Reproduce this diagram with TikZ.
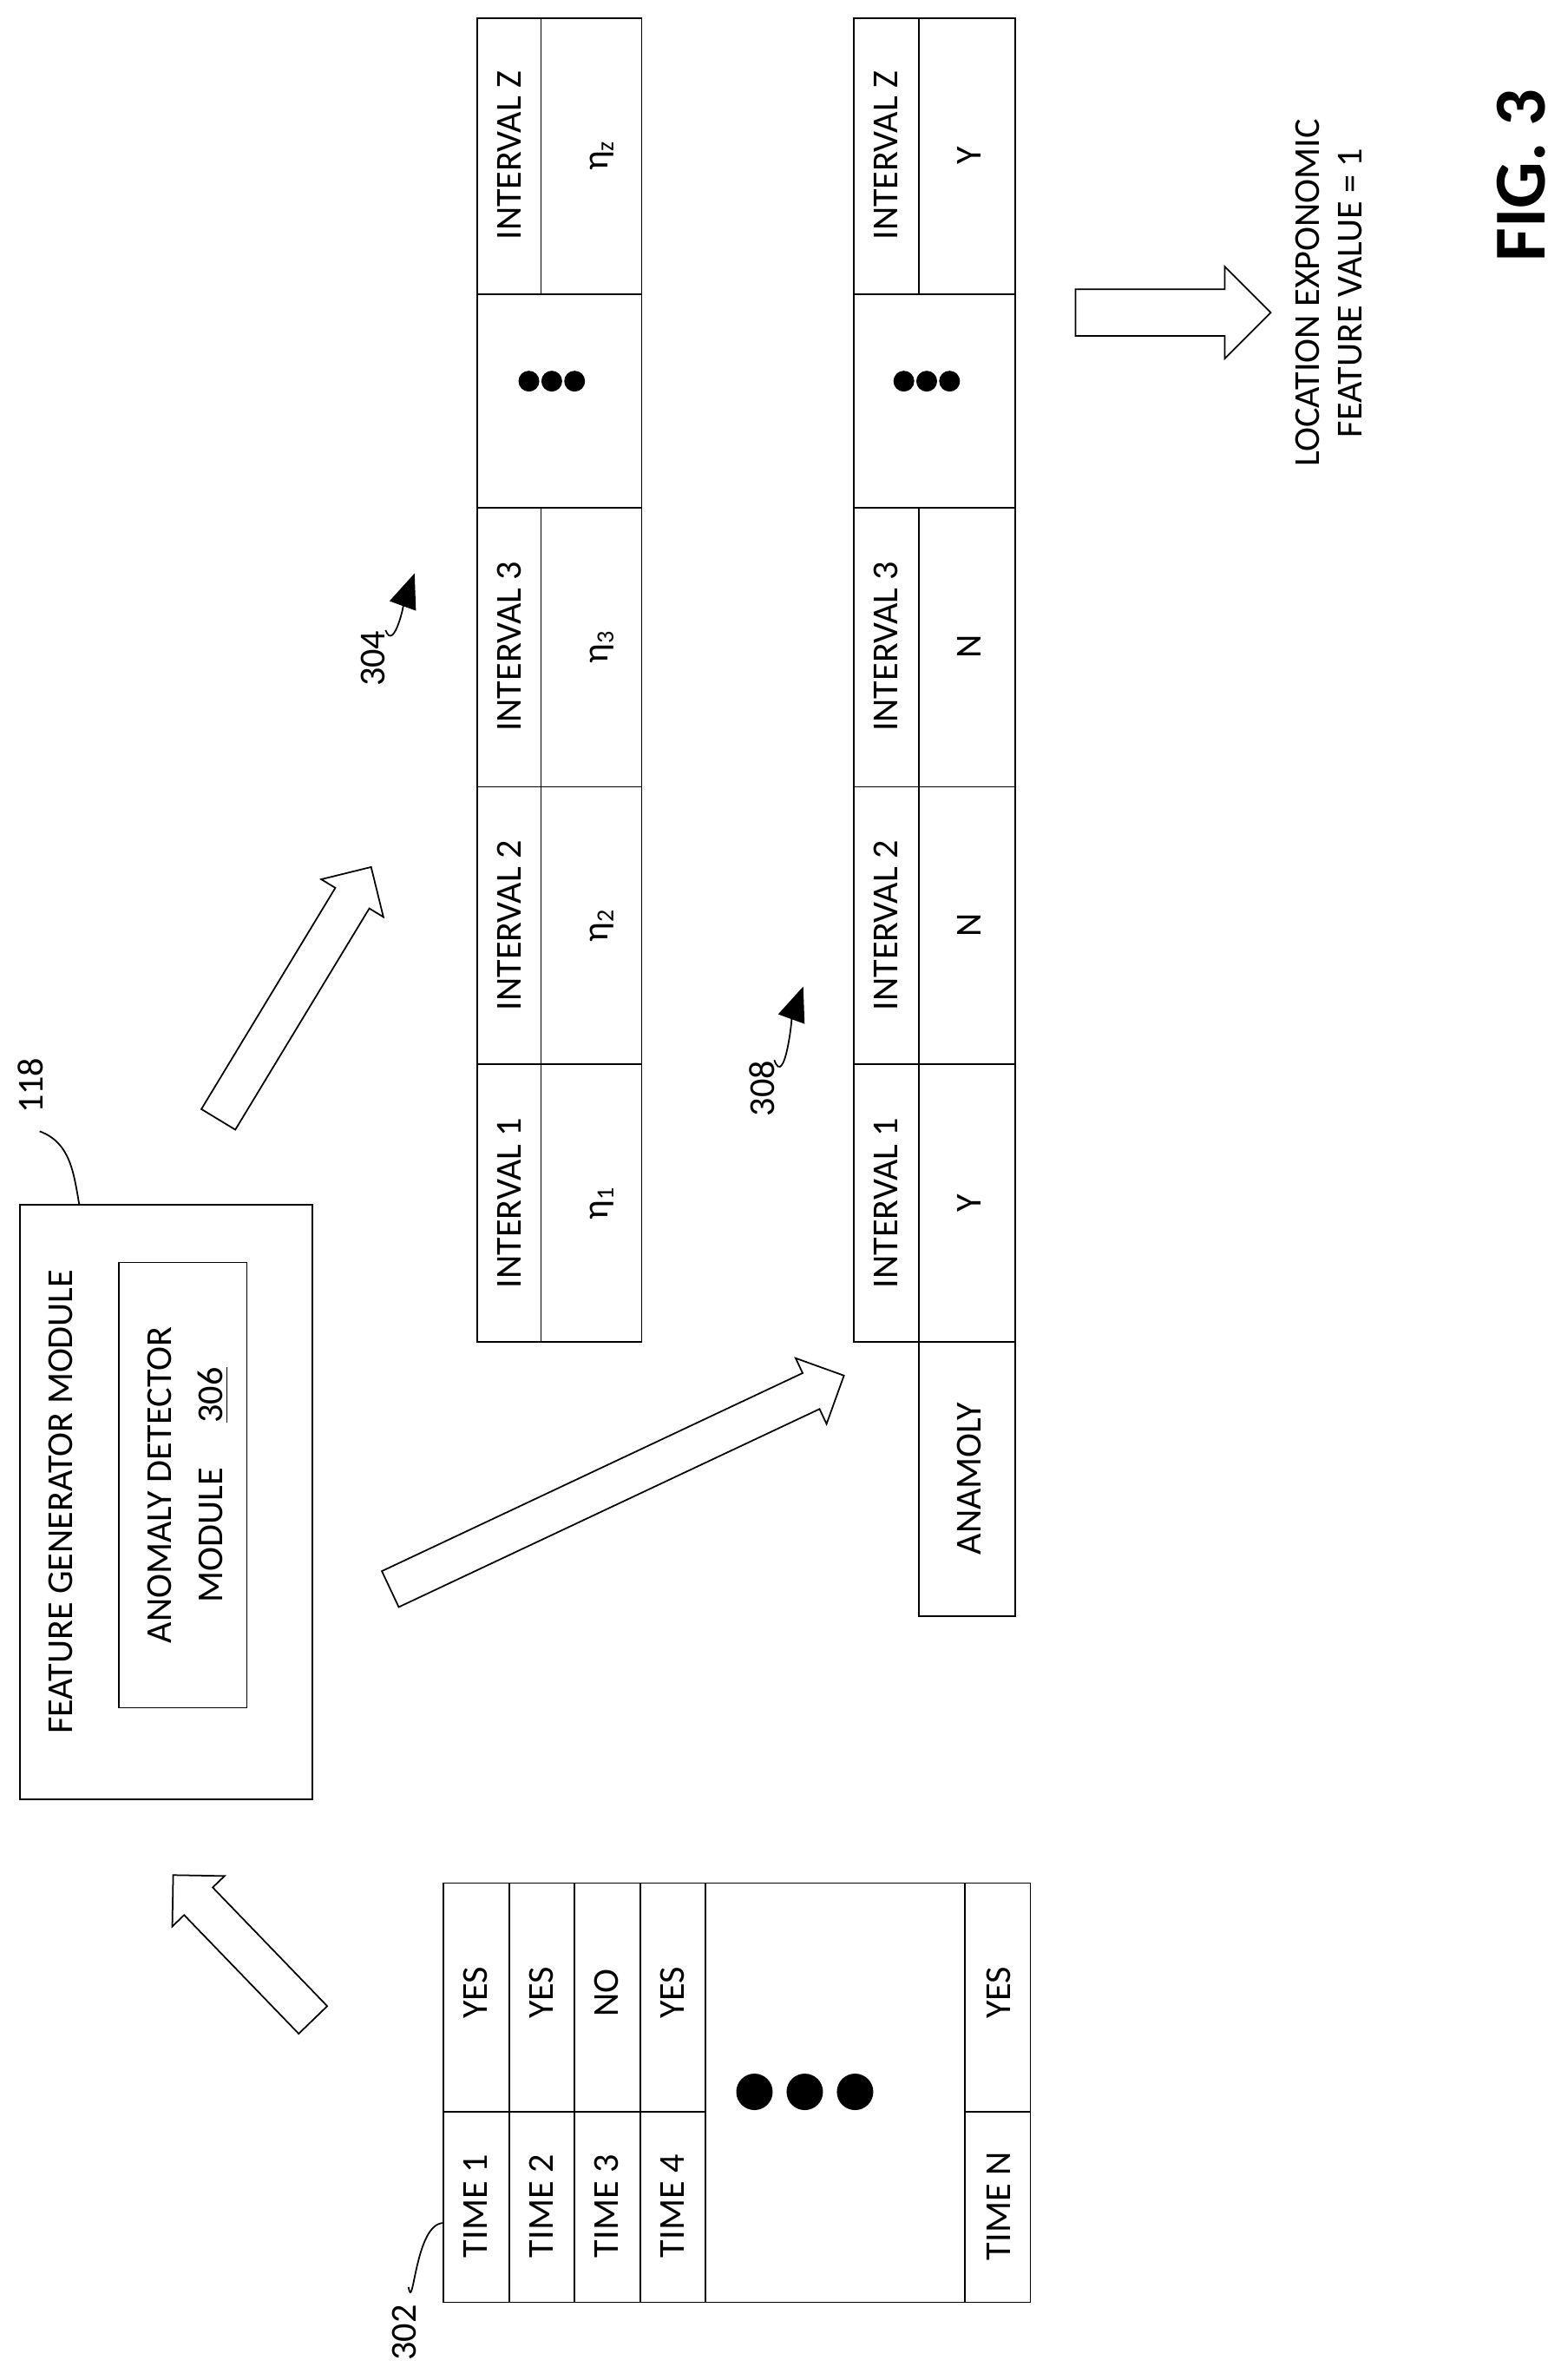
\documentclass[tikz,border=0pt]{standalone}
\usepackage{fontspec}
\setmainfont{Carlito}
\usetikzlibrary{shapes.arrows,arrows.meta}
\newcommand{\eh}[1]{η\textsubscript{#1}}
\begin{document}
\begin{tikzpicture}[x=0.1757mm,y=-0.1757mm,line width=0.5pt,
  t/.style={rotate=90,inner sep=0,font=\fontsize{12}{14}\selectfont},
  big/.style={single arrow,draw,fill=white,inner xsep=0,inner ysep=2.2mm,single arrow head extend=1.9mm,single arrow head indent=0mm,line width=0.5pt},
  dot/.style={fill=black,circle,inner sep=0,minimum size=2.4mm}]
\useasboundingbox (0,0) rectangle (1024,1561);
% table 304
\draw (313,12) rectangle (421,880);
\foreach \y in {193,333,516,698} \draw (313,\y)--(421,\y);
\draw (355,12)--(355,193) (355,333)--(355,880);
\node[t] (h304z) at (334,102) {INTERVAL Z};
\node[t] (h3043) at (334,424) {INTERVAL 3};
\node[t] (h3042) at (334,607) {INTERVAL 2};
\node[t] (h3041) at (334,789) {INTERVAL 1};
\node[t] (v304z) at (395,102) {\eh{z}};
\node[t] (v3043) at (395,424) {\eh{3}};
\node[t] (v3042) at (395,607) {\eh{2}};
\node[t] (v3041) at (395,789) {\eh{1}};
\foreach \x [count=\i] in {347,362,377} \node[dot] (da\i) at (\x,250) {};
% table 308
\draw (560,12) rectangle (666,880);
\foreach \y in {193,333,516,698} \draw (560,\y)--(666,\y);
\draw (603,12)--(603,193) (603,333)--(603,880);
\draw (603,880) rectangle (666,1060);
\node[t] (h308z) at (581,102) {INTERVAL Z};
\node[t] (h3083) at (581,424) {INTERVAL 3};
\node[t] (h3082) at (581,607) {INTERVAL 2};
\node[t] (h3081) at (581,789) {INTERVAL 1};
\node[t] (v308z) at (636,102) {Y};
\node[t] (v3083) at (636,424) {N};
\node[t] (v3082) at (636,607) {N};
\node[t] (v3081) at (636,789) {Y};
\node[t] (anam) at (636,970) {ANAMOLY};
\foreach \x [count=\i] in {593,608,623} \node[dot] (db\i) at (\x,250) {};
% labels 304/308
\node[t] (l304) at (245,432) {304};
\draw[-{Triangle[length=4mm,width=3.2mm]}] (l304.east) ++(8,0) to[out=-70,in=-110] (272,376);
\node[t] (l308) at (500,714) {308};
\draw[-{Triangle[length=4mm,width=3.2mm]}] (l308.east) ++(8,0) to[out=-70,in=-110] (527,647);
% result
\node[big,minimum height=22.5mm,inner ysep=2.6mm,single arrow head extend=2.6mm] (ar4) at (762,205) {};
\node[t,align=center] (res) at (872,192) {LOCATION EXPONOMIC\\FEATURE VALUE = 1};
\node[rotate=90,inner sep=0,font=\fontsize{24}{28}\selectfont\bfseries] (fig) at (998,115) {FIG. 3};
% feature generator
\draw (13,790) rectangle (205,1180);
\node[t] (fgm) at (40,985) {FEATURE GENERATOR MODULE};
\draw (78,828) rectangle (162,1120);
\node[t] (adm) at (105,974) {ANOMALY DETECTOR};
\node[t] (mod) at (140,974) {MODULE \quad\underline{306}};
\node[t] (l118) at (20,712) {118};
\draw (26,742) to[out=-20,in=100] (52,790);
% arrows
\node[big,minimum height=34mm,rotate=58.8] (ar1) at (190,657) {};
\node[big,minimum height=57.8mm,rotate=25.2] (ar2) at (399,975) {};
\node[big,minimum height=23.2mm,rotate=134] (ar3) at (164,1282) {};
% table 302
\draw (291,1235) rectangle (676,1510);
\foreach \x in {334,377,420,463,633} \draw (\x,1235)--(\x,1510);
\draw (291,1385)--(463,1385) (633,1385)--(676,1385);
\foreach \x/\n [count=\i] in {312/1,355/2,398/3,441/4} \node[t] (tm\i) at (\x,1447) {TIME \n};
\node[t] (tmn) at (655,1447) {TIME N};
\node[t] (v1) at (312,1307) {YES};
\node[t] (v2) at (355,1307) {YES};
\node[t] (v3) at (398,1307) {NO};
\node[t] (v4) at (441,1307) {YES};
\node[t] (vn) at (655,1307) {YES};
\foreach \x [count=\i] in {495,528,561} \node[dot,minimum size=4.2mm] (dc\i) at (\x,1372) {};
\node[t] (l302) at (265,1530) {302};
\draw (268,1500) to[out=-80,in=180] (291,1458);
\end{tikzpicture}
\end{document}
